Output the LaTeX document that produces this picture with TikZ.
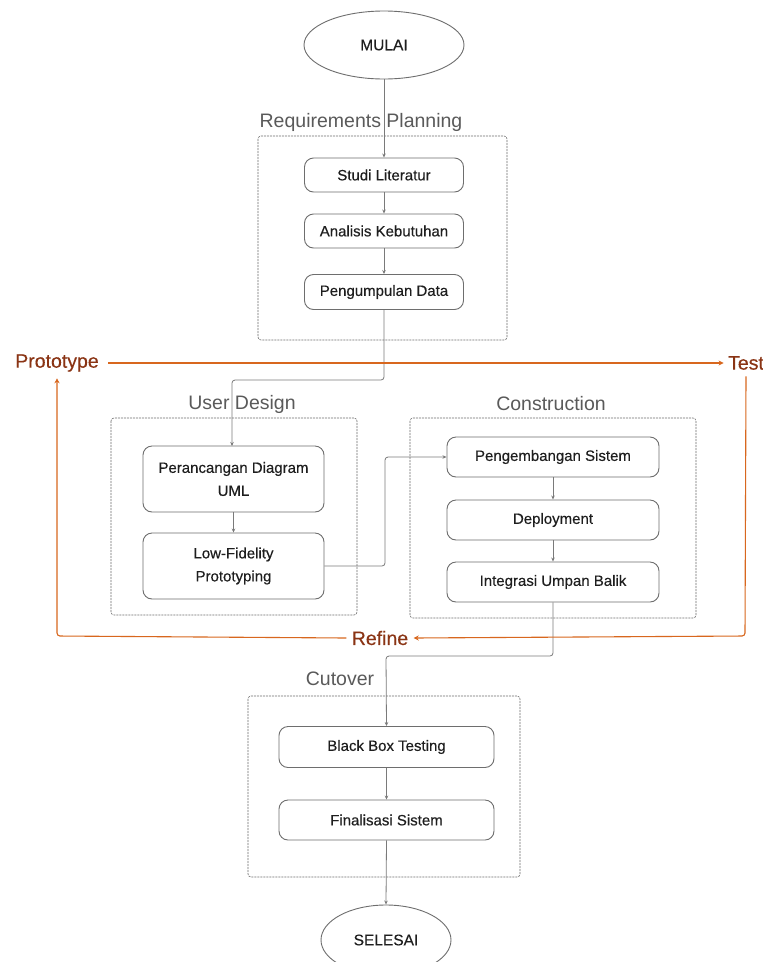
\documentclass[tikz,border=0pt]{standalone}
\usepackage{fontspec}
\setmainfont{Liberation Sans}
\newfontfamily\medfont[FakeBold=0.3]{Liberation Sans}
\usetikzlibrary{shapes.geometric,arrows.meta}
\definecolor{boxline}{HTML}{6E6E6E}
\definecolor{conn}{HTML}{7A7A7A}
\definecolor{orng}{HTML}{D8671E}
\definecolor{brn}{HTML}{8A3414}
\definecolor{lblgray}{HTML}{5A5A5A}
\definecolor{txt}{HTML}{1E1E1E}
\tikzset{
  stepbox/.style={draw=boxline, line width=0.9pt, rounded corners=9pt, align=center, font=\medfont\fontsize{15}{23}\selectfont, text=txt, inner sep=0pt},
  term/.style={draw=boxline, line width=0.9pt, ellipse, font=\medfont\fontsize{15.5}{16}\selectfont, text=txt, inner sep=0pt},
  phase/.style={draw=boxline, line width=0.6pt, dash pattern=on 2pt off 1pt, rounded corners=3pt},
  phaselbl/.style={font=\fontsize{19.5}{22}\selectfont, text=lblgray},
  conn/.style={draw=conn, line width=0.8pt, rounded corners=3pt, -{Stealth[length=4pt,width=3.5pt]}},
  loop/.style={draw=orng, line width=1.1pt, rounded corners=3pt},
  looplbl/.style={font=\medfont\fontsize{19.5}{22}\selectfont, text=brn},
}
\begin{document}
\begin{tikzpicture}[x=1pt,y=-1pt]
\useasboundingbox[fill=white] (0,0) rectangle (763,962);
% phase boxes
\draw[phase] (258,136) rectangle (507,340);
\draw[phase] (111,418) rectangle (357,615);
\draw[phase] (410,418) rectangle (696,618);
\draw[phase] (248,696) rectangle (520,877);
% phase labels
\node[phaselbl] (lrp) at (361,122) {Requirements Planning};
\node[phaselbl] (lud) at (242,404) {User Design};
\node[phaselbl] (lco) at (551,404) {Construction};
\node[phaselbl] (lcu) at (340,679) {Cutover};
% terminals
\node[term, minimum width=160pt, minimum height=68pt] (mulai) at (384,45) {MULAI};
\node[term, minimum width=130pt, minimum height=70pt] (selesai) at (386,940) {SELESAI};
% steps
\node[stepbox, minimum width=159pt, minimum height=34pt] (s1) at (384,175) {Studi Literatur};
\node[stepbox, minimum width=159pt, minimum height=34pt] (s2) at (384,231) {Analisis Kebutuhan};
\node[stepbox, minimum width=159pt, minimum height=35pt] (s3) at (384,292) {Pengumpulan Data};
\node[stepbox, minimum width=181pt, minimum height=66pt] (u1) at (233.5,479) {Perancangan Diagram\\UML};
\node[stepbox, minimum width=181pt, minimum height=66pt] (u2) at (233.5,566) {Low-Fidelity\\Prototyping};
\node[stepbox, minimum width=212pt, minimum height=40pt] (c1) at (553,457) {Pengembangan Sistem};
\node[stepbox, minimum width=212pt, minimum height=40pt] (c2) at (553,520) {Deployment};
\node[stepbox, minimum width=212pt, minimum height=40pt] (c3) at (553,582) {Integrasi Umpan Balik};
\node[stepbox, minimum width=215pt, minimum height=41pt] (b1) at (386.5,747) {Black Box Testing};
\node[stepbox, minimum width=215pt, minimum height=40pt] (b2) at (386.5,820) {Finalisasi Sistem};
% loop labels
\node[looplbl] (proto) at (57,363) {Prototype};
\node[looplbl] (test) at (746,363) {Test};
\node[looplbl] (refine) at (380,638) {Refine};
% connectors
\draw[conn] (mulai.south) -- (s1.north);
\draw[conn] (s1) -- (s2);
\draw[conn] (s2) -- (s3);
\draw[conn] (s3.south) -- (384,380) -- (232,380) -- (232,446);
\draw[conn] (u1) -- (u2);
\draw[conn] (u2.east) -- (385,566) -- (385,457) -- (c1.west);
\draw[conn] (c1) -- (c2);
\draw[conn] (c2) -- (c3);
\draw[conn] (c3.south) -- (553,656) -- (386,656) -- (b1.north);
\draw[conn] (b1) -- (b2);
\draw[conn] (b2.south) -- (selesai.north);
% orange loop
\draw[loop, -{Stealth[length=5pt,width=5pt]}] ([xshift=6pt]proto.east) -- ([xshift=-1pt]test.west);
\draw[loop, -{Stealth[length=5pt,width=5pt]}] ([yshift=-3pt]test.south) -- (745,636) -- ([xshift=2pt]refine.east);
\draw[loop, -{Stealth[length=5pt,width=5pt]}] ([xshift=-2pt]refine.west) -- (57,636) -- ([yshift=-3pt]proto.south);
\end{tikzpicture}
\end{document}
